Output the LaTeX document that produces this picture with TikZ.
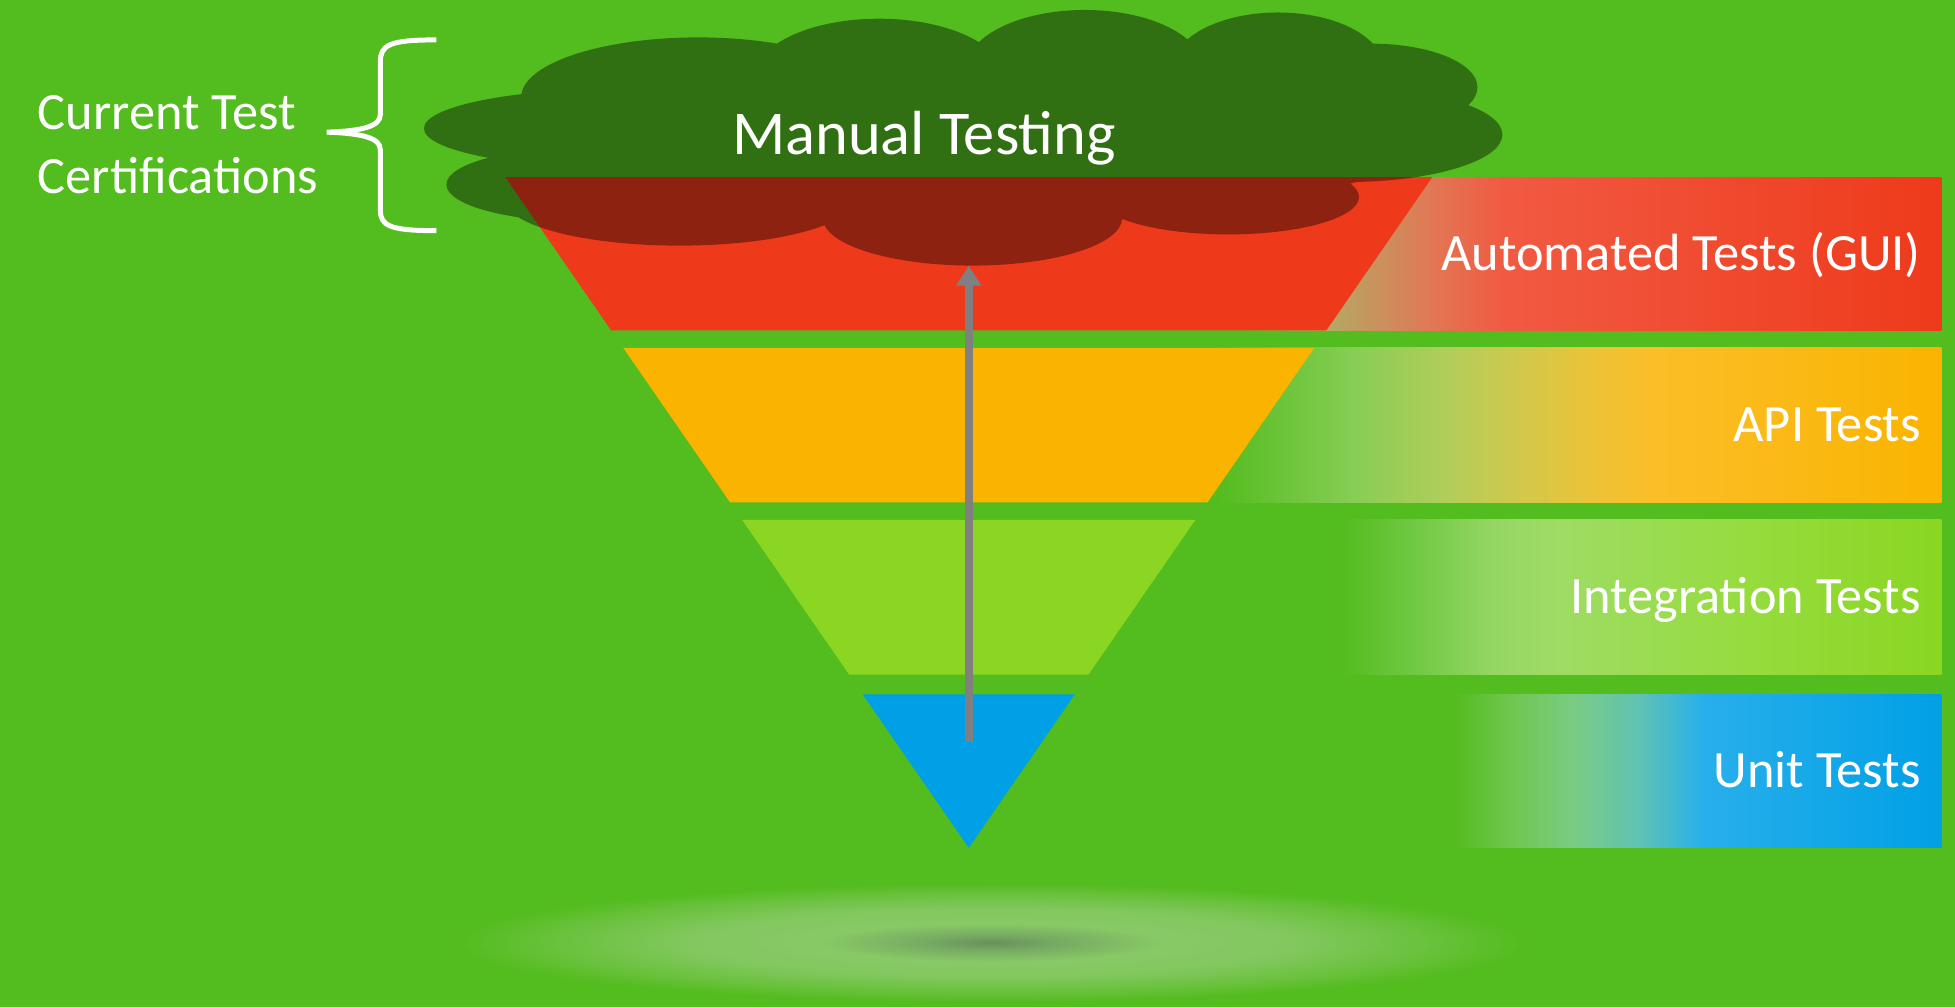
\documentclass[tikz,border=0pt]{standalone}
\usepackage{fontspec}
\setmainfont{Carlito}
\usetikzlibrary{arrows.meta}

\definecolor{bggreen}{RGB}{83,188,30}
\definecolor{redband}{RGB}{238,58,27}
\definecolor{orangeband}{RGB}{250,180,0}
\definecolor{limeband}{RGB}{138,214,34}
\definecolor{blueband}{RGB}{0,160,230}
\definecolor{arrowgray}{RGB}{128,128,128}
\definecolor{halodark}{RGB}{104,144,94}
\definecolor{halolight}{RGB}{136,201,102}

% colours along the bars
\definecolor{redA}{RGB}{180,168,100}
\definecolor{redB}{RGB}{225,120,85}
\definecolor{redC}{RGB}{241,90,66}
\definecolor{orangeA}{RGB}{135,205,85}
\definecolor{orangeB}{RGB}{180,205,90}
\definecolor{orangeC}{RGB}{210,200,75}
\definecolor{orangeD}{RGB}{235,195,55}
\definecolor{orangeE}{RGB}{251,190,40}
\definecolor{limeA}{RGB}{110,200,65}
\definecolor{limeB}{RGB}{150,215,100}
\definecolor{limeC}{RGB}{158,220,100}
\definecolor{limeD}{RGB}{150,220,62}
\definecolor{blueA}{RGB}{112,198,78}
\definecolor{blueB}{RGB}{122,204,132}
\definecolor{blueC}{RGB}{95,194,180}
\definecolor{blueD}{RGB}{40,175,235}

\pgfdeclareradialshading{halo}{\pgfpoint{0bp}{0bp}}{%
  color(0bp)=(halodark); color(3bp)=(halodark!55!halolight);
  color(8bp)=(halolight); color(14bp)=(halolight!90!bggreen);
  color(20bp)=(halolight!45!bggreen); color(25bp)=(bggreen);
  color(50bp)=(bggreen)}

\tikzset{
  barlabel/.style={anchor=base east, inner sep=0pt, text=white,
                   font=\fontsize{21}{25}\selectfont},
  testarrow/.style={arrowgray, line width=3.2pt,
                    -{Triangle[width=9.5pt, length=8pt]}},
}

\begin{document}
\begin{tikzpicture}[x=0.5pt, y=-0.5pt]

    % \draw [help lines, step=50] (0, 0) grid (1568, 808);

    \useasboundingbox (0, 0) rectangle (1568, 807.7);
    \fill [bggreen] (0, 0) rectangle (1568, 807.7);

    % shadow under the tip
    \shade [shading=halo] (795, 756) ellipse [x radius=430, y radius=48];

    % bars behind the funnel
    \foreach \xa/\ca/\xb/\cb in {990/bggreen/1066/redA, 1066/redA/1147/redB,
                                 1147/redB/1205/redC, 1205/redC/1557/redband}
        \shade [left color=\ca, right color=\cb] (\xa, 142) rectangle ({min(\xb+1,1557)}, 265);
    \foreach \xa/\ca/\xb/\cb in {975/bggreen/1085/orangeA, 1085/orangeA/1165/orangeB,
                                 1165/orangeB/1220/orangeC, 1220/orangeC/1275/orangeD,
                                 1275/orangeD/1325/orangeE, 1325/orangeE/1557/orangeband}
        \shade [left color=\ca, right color=\cb] (\xa, 279) rectangle ({min(\xb+1,1557)}, 403);
    \foreach \xa/\ca/\xb/\cb in {1075/bggreen/1130/limeA, 1130/limeA/1200/limeB,
                                 1200/limeB/1250/limeC, 1250/limeC/1400/limeD,
                                 1400/limeD/1557/limeband}
        \shade [left color=\ca, right color=\cb] (\xa, 417) rectangle ({min(\xb+1,1557)}, 541);
    \foreach \xa/\ca/\xb/\cb in {1165/bggreen/1210/blueA, 1210/blueA/1262/blueB,
                                 1262/blueB/1315/blueC, 1315/blueC/1365/blueD,
                                 1365/blueD/1557/blueband}
        \shade [left color=\ca, right color=\cb] (\xa, 557) rectangle ({min(\xb+1,1557)}, 680);

    % funnel
    \fill [redband   ] (405.2, 142) -- (1148.8, 142) -- (1063.8, 265) -- (490.2, 265) -- cycle;
    \fill [orangeband] (499.9, 279) -- (1054.1, 279) -- ( 968.4, 403) -- (585.6, 403) -- cycle;
    \fill [limeband  ] (595.3, 417) -- ( 958.7, 417) -- ( 873.0, 541) -- (681.0, 541) -- cycle;
    \fill [blueband  ] (692.0, 557) -- ( 862.0, 557) -- ( 777.0, 680) -- cycle;

    % cloud
    \fill [black, opacity=0.4]
        ( 560,  78) ellipse [x radius=142, y radius=48]
        ( 705,  62) ellipse [x radius=100, y radius=47]
        ( 870,  55) ellipse [x radius= 95, y radius=47]
        (1025,  55) ellipse [x radius= 85, y radius=45]
        (1100,  70) ellipse [x radius= 85, y radius=35]
        (1080, 108) ellipse [x radius=125, y radius=38]
        ( 500, 103) ellipse [x radius=160, y radius=32]
        ( 470, 148) ellipse [x radius=112, y radius=30]
        ( 545, 160) ellipse [x radius=140, y radius=37]
        ( 780, 175) ellipse [x radius=120, y radius=38]
        ( 985, 158) ellipse [x radius=105, y radius=30]
        ( 780, 105) ellipse [x radius=380, y radius=70];

    \node [anchor=base, inner sep=0pt, text=white, font=\fontsize{25}{30}\selectfont]
        (manual) at (741, 124) {Manual Testing};

    \coordinate (unitbase)    at (777, 595);
    \coordinate (cloudbottom) at (777, 213);
    \draw [testarrow] (unitbase) -- (cloudbottom);

    \node [barlabel] (guilabel)  at (1541, 217) {Automated Tests (GUI)};
    \node [barlabel] (apilabel)  at (1541, 354) {API Tests};
    \node [barlabel] (intlabel)  at (1541, 492) {Integration Tests};
    \node [barlabel] (unitlabel) at (1541, 632) {Unit Tests};

    % brace
    \draw [white, line width=2pt]
        (350, 32) .. controls (312, 32) and (305, 36) .. (305, 50) -- (305, 92)
        .. controls (305, 101) and (292, 105) .. (262, 106)
        .. controls (292, 107) and (305, 111) .. (305, 120) -- (305, 168)
        .. controls (305, 181) and (312, 185) .. (350, 185);

    \node [anchor=west, align=left, inner sep=0pt, text=white,
           font=\fontsize{21}{26}\selectfont]
        (certlabel) at (30, 116) {Current Test\\Certifications};

\end{tikzpicture}
\end{document}
